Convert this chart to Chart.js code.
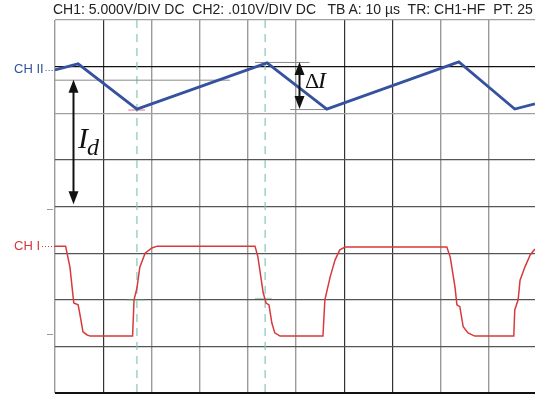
<!DOCTYPE html>
<html>
<head>
<meta charset="utf-8">
<script src="https://cdn.jsdelivr.net/npm/chart.js@4"></script>
<style>
  html, body { margin: 0; padding: 0; background: #fff; }
  #wrap { position: relative; width: 535px; height: 394px; overflow: hidden; }
  #header {
    position: absolute; left: 53px; top: 1px; white-space: nowrap;
    font: 14px "Liberation Sans", Arial, sans-serif; color: #222;
  }
</style>
</head>
<body>
<div id="wrap">
  <div id="header">CH1: 5.000V/DIV DC&nbsp; CH2: .010V/DIV DC&nbsp;&nbsp; TB A: 10 µs&nbsp; TR: CH1-HF&nbsp; PT: 25</div>
  <canvas id="scope" width="535" height="394"></canvas>
</div>
<script>
// screen in divisions: 10 across (cut at right edge), 8 high
const xDivs = [0, 1, 2, 3, 4, 5, 6, 7, 8, 9, 10];
const yDivs = [0, 1, 2, 3, 4, 5, 6, 7, 8];

// CH2 (current) - triangle wave
const ch2X = [0, 0.48, 1.70, 4.40, 5.64, 8.38, 9.54, 9.96];
const ch2Y = [6.93, 7.06, 6.09, 7.08, 6.09, 7.10, 6.09, 6.20];

// CH1 (voltage) - switching waveform
const ch1X = [0, 0.22, 0.31, 0.39, 0.48, 0.52, 0.58, 0.66, 0.73,
  1.61, 1.64, 1.70, 1.76, 1.87, 2.01, 2.12,
  4.15, 4.21, 4.32, 4.38, 4.44, 4.50, 4.56, 4.67,
  5.56, 5.60, 5.71, 5.81, 5.91, 6.02,
  8.13, 8.20, 8.30, 8.34, 8.40, 8.47, 8.57, 8.71,
  9.52, 9.54, 9.61, 9.65, 9.75, 9.86, 9.96];
const ch1Y = [3.15, 3.15, 2.70, 1.93, 1.89, 1.67, 1.31, 1.25, 1.22,
  1.22, 2.00, 2.25, 2.70, 3.00, 3.11, 3.15,
  3.15, 2.92, 2.15, 1.93, 1.89, 1.50, 1.29, 1.22,
  1.22, 2.00, 2.49, 2.85, 3.07, 3.13,
  3.13, 2.92, 2.27, 1.89, 1.85, 1.42, 1.29, 1.22,
  1.22, 1.78, 2.00, 2.42, 2.70, 2.96, 3.09];

// cursors and markers (division units)
const cursorX = [1.70, 4.36];
const idArrow = { x: 0.37, y1: 6.72, y2: 4.05 };
const dIArrow = { x: 5.07, y1: 7.10, y2: 6.09 };

const toPts = (xs, ys) => xs.map((x, i) => ({ x, y: ys[i] }));

const darkX = [1, 6, 7];
const darkY = [7, 0];

const overlay = {
  id: 'overlay',
  beforeDatasetsDraw(chart) {
    const { ctx, scales: { x, y } } = chart;
    ctx.save();
    // dashed cursors
    ctx.strokeStyle = '#86c4bb';
    ctx.lineWidth = 1.2;
    ctx.setLineDash([8, 6]);
    cursorX.forEach(c => {
      ctx.beginPath();
      ctx.moveTo(x.getPixelForValue(c), y.getPixelForValue(8));
      ctx.lineTo(x.getPixelForValue(c), y.getPixelForValue(0));
      ctx.stroke();
    });
    ctx.setLineDash([]);
    // reference lines for Id / dI
    ctx.strokeStyle = '#8a8a8a';
    ctx.lineWidth = 1;
    const hline = (a, b, v) => {
      ctx.beginPath();
      ctx.moveTo(x.getPixelForValue(a), y.getPixelForValue(v) + 0.5);
      ctx.lineTo(x.getPixelForValue(b), y.getPixelForValue(v) + 0.5);
      ctx.stroke();
    };
    hline(0, 3.63, 6.72);
    hline(4.15, 5.28, 7.10);
    hline(4.88, 5.65, 6.09);
    // small markers on CH1
    ctx.strokeStyle = '#9fd0b0';
    hline(1.50, 1.85, 2.0);
    hline(4.15, 4.50, 2.04);
    ctx.strokeStyle = '#e07090';
    hline(1.52, 1.87, 6.08);
    ctx.restore();
  },
  afterDraw(chart) {
    const { ctx, scales: { x, y } } = chart;
    ctx.save();
    const arrow = (a) => {
      const px = Math.round(x.getPixelForValue(a.x)) + 0.5;
      const p1 = y.getPixelForValue(a.y1), p2 = y.getPixelForValue(a.y2);
      ctx.strokeStyle = '#111';
      ctx.fillStyle = '#111';
      ctx.lineWidth = 2;
      ctx.beginPath();
      ctx.moveTo(px, p1 + 10);
      ctx.lineTo(px, p2 - 10);
      ctx.stroke();
      ctx.beginPath();
      ctx.moveTo(px, p1); ctx.lineTo(px - 5, p1 + 13); ctx.lineTo(px + 5, p1 + 13); ctx.closePath();
      ctx.fill();
      ctx.beginPath();
      ctx.moveTo(px, p2); ctx.lineTo(px - 5, p2 - 13); ctx.lineTo(px + 5, p2 - 13); ctx.closePath();
      ctx.fill();
    };
    arrow(idArrow);
    arrow(dIArrow);
    ctx.fillStyle = '#111';
    ctx.textBaseline = 'alphabetic';
    ctx.font = 'italic 30px "Liberation Serif", "DejaVu Serif", serif';
    ctx.fillText('I', 78, 148);
    ctx.font = 'italic 24px "Liberation Serif", "DejaVu Serif", serif';
    ctx.fillText('d', 87, 155);
    ctx.font = '22px "Liberation Serif", serif';
    ctx.fillText('Δ', 305, 88);
    ctx.font = 'italic 24px "Liberation Serif", serif';
    ctx.fillText('I', 318, 88);

    // channel labels with dotted leaders
    ctx.font = '13px "Liberation Sans", Arial, sans-serif';
    ctx.textBaseline = 'middle';
    const tag = (txt, color, v) => {
      const py = y.getPixelForValue(v);
      ctx.fillStyle = color;
      ctx.fillText(txt, 14, py);
      const w = ctx.measureText(txt).width;
      ctx.strokeStyle = color;
      ctx.lineWidth = 1;
      ctx.setLineDash([1, 2]);
      ctx.beginPath();
      ctx.moveTo(14 + w + 2, Math.round(py) + 0.5);
      ctx.lineTo(x.left, Math.round(py) + 0.5);
      ctx.stroke();
      ctx.setLineDash([]);
    };
    tag('CH II', '#34539f', 6.93);
    tag('CH I', '#d0393d', 3.15);
    // level ticks at left
    ctx.strokeStyle = '#999';
    [3.95, 1.27].forEach(v => {
      const py = Math.round(y.getPixelForValue(v)) + 0.5;
      ctx.beginPath(); ctx.moveTo(47, py); ctx.lineTo(53, py); ctx.stroke();
    });
    ctx.restore();
  }
};

new Chart(document.getElementById('scope'), {
  type: 'scatter',
  data: {
    datasets: [
      {
        data: toPts(ch2X, ch2Y),
        showLine: true,
        borderColor: '#35529e',
        borderWidth: 2.8,
        pointRadius: 0,
        tension: 0
      },
      {
        data: toPts(ch1X, ch1Y),
        showLine: true,
        borderColor: '#d8393b',
        borderWidth: 1.5,
        pointRadius: 0,
        tension: 0
      }
    ]
  },
  options: {
    responsive: false,
    animation: false,
    layout: { padding: { left: 55, top: 20, right: 0, bottom: 1 } },
    plugins: { legend: { display: false }, tooltip: { enabled: false } },
    scales: {
      x: {
        type: 'linear', min: 0, max: 9.96,
        afterBuildTicks: (s) => { s.ticks = xDivs.filter(v => v <= 9.96).map(v => ({ value: v })); },
        ticks: { display: false },
        border: { display: false },
        grid: {
          drawTicks: false,
          color: (c) => darkX.includes(c.tick.value) ? '#333' : '#9a9a9a',
          lineWidth: (c) => darkX.includes(c.tick.value) ? 1.2 : 1.4
        }
      },
      y: {
        type: 'linear', min: 0, max: 8,
        afterBuildTicks: (s) => { s.ticks = yDivs.map(v => ({ value: v })); },
        ticks: { display: false },
        border: { display: false },
        grid: {
          drawTicks: false,
          color: (c) => darkY.includes(c.tick.value) ? '#111' : (c.tick.value >= 6 ? '#a0a0a0' : '#555'),
          lineWidth: (c) => c.tick.value === 0 ? 2.5 : 1.2
        }
      }
    }
  },
  plugins: [overlay]
});
</script>
</body>
</html>
